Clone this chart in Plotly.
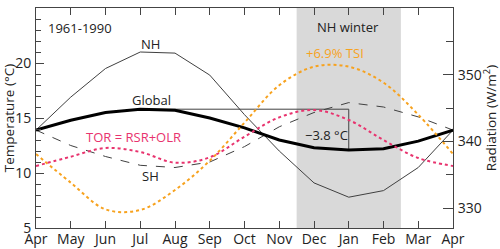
import plotly.graph_objects as go

months = ["Apr", "May", "Jun", "Jul", "Aug", "Sep", "Oct", "Nov", "Dec", "Jan", "Feb", "Mar", "Apr"]
nh = [13.9, 16.9, 19.5, 21.0, 20.9, 18.9, 15.3, 12.0, 9.1, 7.8, 8.4, 10.5, 13.9]
sh = [13.9, 12.5, 11.5, 10.7, 10.5, 11.0, 12.4, 14.2, 15.5, 16.4, 16.0, 15.1, 13.9]
glob = [13.9, 14.8, 15.5, 15.8, 15.7, 15.0, 14.1, 13.0, 12.3, 12.1, 12.2, 12.9, 13.9]
tsi = [338.1, 333.8, 329.8, 329.7, 332.7, 337.1, 342.8, 348.4, 351.2, 351.2, 348.8, 344.0, 338.1]
tor = [336.3, 337.7, 339.0, 338.4, 336.8, 337.6, 340.7, 343.6, 344.7, 343.2, 340.2, 337.5, 336.3]
winter_span = [7.5, 10.5]

x = list(range(len(months)))
FONT = "Open Sans"
ORANGE = "#f7a21e"
PINK = "#e8336e"
GRAY = "#404040"

fig = go.Figure()
fig.add_trace(go.Scatter(x=x, y=tsi, yaxis="y2", mode="lines",
                         line=dict(color=ORANGE, width=2, dash="dot", shape="spline")))
fig.add_trace(go.Scatter(x=x, y=tor, yaxis="y2", mode="lines",
                         line=dict(color=PINK, width=2, dash="dot", shape="spline")))
fig.add_trace(go.Scatter(x=x, y=sh, mode="lines", line=dict(color=GRAY, width=1, dash="dash")))
fig.add_trace(go.Scatter(x=x, y=nh, mode="lines", line=dict(color=GRAY, width=1)))

imax = glob.index(max(glob))
imin = glob.index(min(glob))
fig.add_trace(go.Scatter(x=[imax, imin, imin], y=[max(glob), max(glob), min(glob)], mode="lines",
                         line=dict(color=GRAY, width=1)))
fig.add_trace(go.Scatter(x=x, y=glob, mode="lines", line=dict(color="black", width=3)))

fig.add_shape(type="rect", xref="x", yref="paper", x0=winter_span[0], x1=winter_span[1],
              y0=0, y1=1, fillcolor="#d9d9d9", line_width=0, layer="below")

def ann(xx, yy, text, color="#222", size=13):
    fig.add_annotation(x=xx, y=yy, xref="x", yref="y", text=text, showarrow=False,
                       font=dict(family=FONT, size=size, color=color))

ann(1.27, 23.2, "1961-1990")
ann(3.3, 21.7, "NH")
ann(3.33, 16.6, "Global")
ann(3.3, 9.75, "SH")
ann(2.8, 13.3, "TOR = RSR+OLR", PINK)
ann(8.98, 23.3, "NH winter")
ann(8.6, 20.9, "+6.9% TSI", ORANGE)
ann(8.37, 13.45, "\u22123.8 \u00b0C")

tickfont = dict(family=FONT, size=14, color="#222")
titlefont = dict(family=FONT, size=13.5, color="#222")
fig.update_layout(
    width=500, height=249,
    margin=dict(l=36, r=47, t=8, b=21),
    paper_bgcolor="white", plot_bgcolor="white",
    showlegend=False,
    xaxis=dict(range=[0, 12], tickmode="array", tickvals=x, ticktext=months,
               ticks="inside", ticklen=7, tickcolor="#444", showline=True, linecolor="#444",
               linewidth=1, mirror="ticks", showgrid=False, zeroline=False,
               tickfont=tickfont, ticklabelstandoff=-2, automargin=False),
    yaxis=dict(range=[5, 25], dtick=5, ticks="inside", ticklen=8, tickcolor="#444",
               showline=True, linecolor="#444", linewidth=1, showgrid=False, zeroline=False,
               tickfont=tickfont, ticklabelstandoff=1, automargin=False,
               minor=dict(dtick=1, ticks="inside", ticklen=5, tickcolor="#444", showgrid=False),
               title=dict(text="Temperature (\u00b0C)", font=titlefont, standoff=2)),
    yaxis2=dict(range=[327, 360], dtick=10, tick0=330, overlaying="y", side="right",
                ticks="inside", ticklen=10, tickcolor="#444", showline=True, linecolor="#444",
                linewidth=1, showgrid=False, zeroline=False, tickfont=tickfont,
                ticklabelstandoff=1, automargin=False,
                minor=dict(dtick=5, ticks="inside", ticklen=7, tickcolor="#444", showgrid=False),
                title=dict(text="Radiation (W/m<sup>2</sup>)", font=titlefont, standoff=1)),
)

fig.write_html("out.html")
